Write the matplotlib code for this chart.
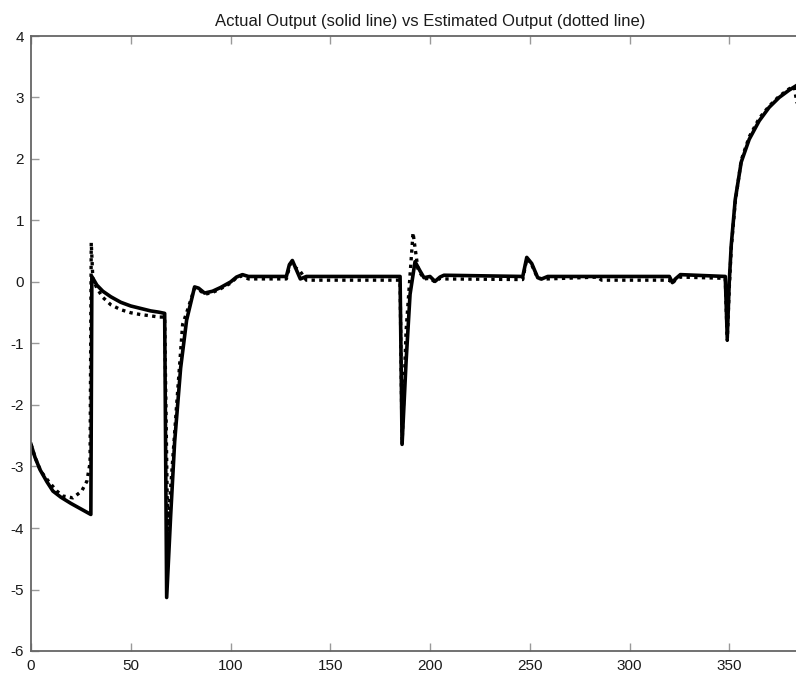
import matplotlib.pyplot as plt

# actual output (solid line)
actual_x = [0, 2, 4.5, 8, 11, 15, 20, 25, 30, 30.5, 33, 36, 40, 45, 50, 55, 60, 64, 67,
            68, 70, 72, 75, 78, 80, 82, 84, 87, 91, 95, 100, 103, 106, 109, 128,
            129.5, 131, 133, 135, 138, 185, 186, 188, 190, 192.5, 195, 197, 200,
            202.5, 205, 207, 246.5, 248.5, 251, 254, 256, 259, 320, 321.5, 323,
            325.5, 348, 349, 350, 351, 353, 356, 360, 365, 370, 375, 380, 385]
actual_y = [-2.64, -2.85, -3.05, -3.25, -3.4, -3.5, -3.6, -3.69, -3.78, 0.09, -0.05,
            -0.15, -0.24, -0.33, -0.39, -0.43, -0.47, -0.49, -0.51,
            -5.13, -3.8, -2.6, -1.4, -0.62, -0.35, -0.08, -0.1, -0.18, -0.15, -0.09,
            0.0, 0.08, 0.12, 0.09, 0.09,
            0.28, 0.35, 0.2, 0.05, 0.09, 0.09, -2.64, -1.3, -0.2, 0.33, 0.18, 0.07, 0.09,
            0.01, 0.08, 0.11, 0.09, 0.4, 0.3, 0.07, 0.05, 0.09, 0.09, -0.01, 0.05,
            0.12, 0.09, -0.91, 0.0, 0.6, 1.34, 1.95, 2.32, 2.62, 2.84, 3.0, 3.12, 3.22]

# estimated output (dotted line)
est_x = [0, 2, 5, 9.5, 13, 16, 21, 25.4, 28, 29.6, 30.2, 31, 33, 36, 40, 45, 50, 55, 60,
         64, 67, 68.5, 71, 73, 76, 78, 80, 82, 84, 87, 91, 95, 100, 103, 106, 109, 128,
         130, 132, 135, 138, 185, 186, 188, 191.5, 194, 197, 200, 202.5, 205, 207,
         246.5, 248.5, 251, 254, 256, 259, 284, 286, 320, 321.5, 323, 325.5, 348,
         349, 350, 351, 353, 356, 360, 365, 370, 375, 380, 382.5, 384]
est_y = [-2.64, -2.85, -3.08, -3.27, -3.4, -3.48, -3.51, -3.4, -3.24, -2.94, 0.64, 0.05,
         -0.1, -0.25, -0.37, -0.45, -0.5, -0.53, -0.55, -0.57, -0.57,
         -4.03, -2.9, -2.0, -0.69, -0.5, -0.3, -0.1, -0.12, -0.2, -0.17, -0.11, -0.02,
         0.07, 0.1, 0.05, 0.05,
         0.3, 0.25, 0.17, 0.03, 0.03, -2.64, -0.8, 0.8, 0.2, 0.05, 0.06, 0.0, 0.06, 0.05,
         0.04, 0.38, 0.28, 0.06, 0.05, 0.05, 0.08, 0.03, 0.03, -0.03, 0.04, 0.08, 0.06,
         -0.95, -0.1, 0.55, 1.3, 1.98, 2.36, 2.66, 2.86, 3.02, 3.14, 3.18, 2.9]

x_ticks = [0, 50, 100, 150, 200, 250, 300, 350]
y_ticks = [-6, -5, -4, -3, -2, -1, 0, 1, 2, 3, 4]

plt.rcParams["font.family"] = ["Liberation Sans", "DejaVu Sans"]
plt.rcParams["axes.unicode_minus"] = False

fig = plt.figure(figsize=(7.96, 6.79), dpi=100)
# axes run past the right edge, as in the cropped reference
ax = fig.add_axes([31 / 796, 28 / 679, 798 / 796, 615 / 679])

ax.plot(actual_x, actual_y, color="black", linewidth=2.6, solid_joinstyle="round")
ax.plot(est_x, est_y, color="black", linewidth=2.4, linestyle=(0, (1, 1.3)),
        dash_capstyle="butt")

ax.set_xlim(0, 400)
ax.set_ylim(-6, 4)
ax.set_xticks(x_ticks)
ax.set_yticks(y_ticks)

for side in ["left", "bottom", "top", "right"]:
    ax.spines[side].set_color("#666666")
    ax.spines[side].set_linewidth(1.3)

ax.tick_params(direction="in", length=6, width=1.0, color="#999999",
               labelsize=11, labelcolor="#1a1a1a", top=True, right=True)
ax.tick_params(axis="x", pad=6)
ax.tick_params(axis="y", pad=5)

ax.set_title("Actual Output (solid line) vs Estimated Output (dotted line)",
             fontsize=12, color="#1a1a1a", pad=7)

fig.savefig("out.png", dpi=100)
